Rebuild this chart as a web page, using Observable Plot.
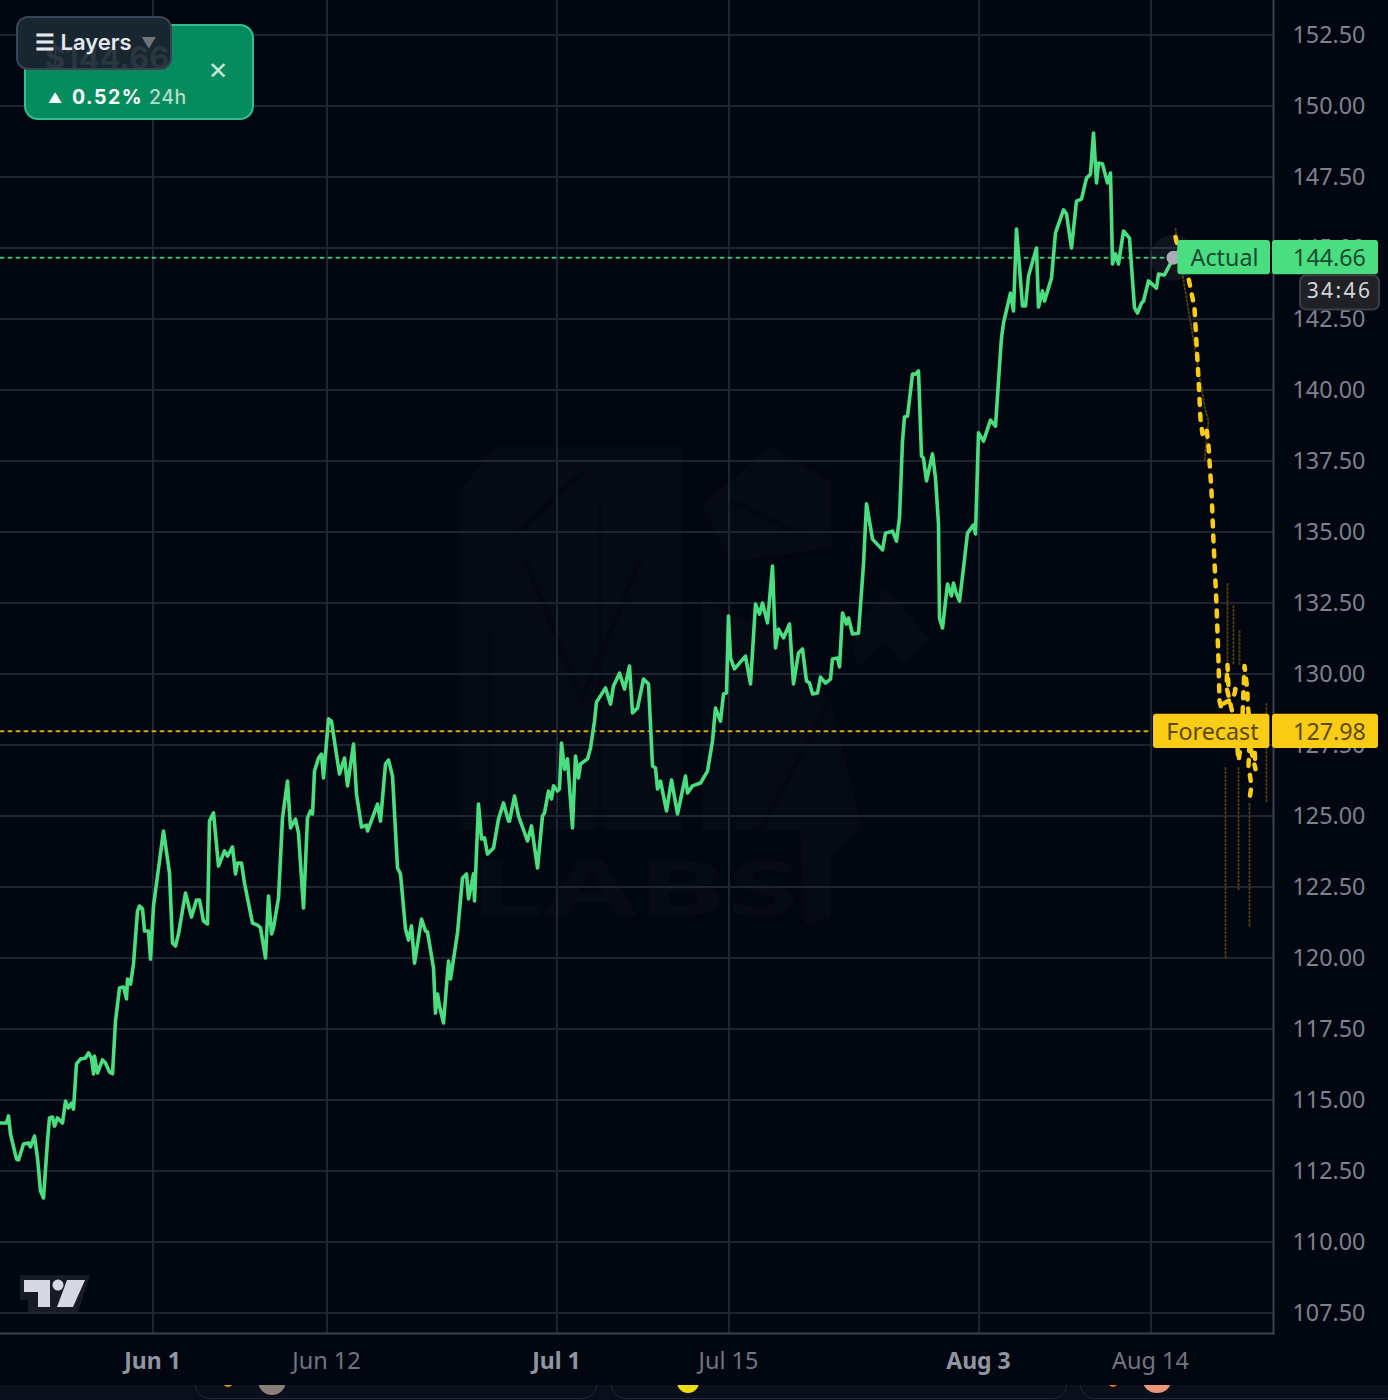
<!DOCTYPE html>
<html><head><meta charset="utf-8">
<script src="https://cdn.jsdelivr.net/npm/d3@7"></script>
<script src="https://cdn.jsdelivr.net/npm/@observablehq/plot@0.6"></script>
<style>
html,body{margin:0;padding:0;background:#020611;}
#stage{position:relative;width:1388px;height:1400px;overflow:hidden;background:#020611;font-family:Inter,"Noto Sans",sans-serif;}
#mark{position:absolute;left:0;top:0;}
#chart{position:absolute;left:0;top:0;}
#foot{position:absolute;left:0;top:1385px;width:1388px;height:15px;background:#0a0f1b;overflow:hidden;}
#foot .c{position:absolute;top:-30px;height:44px;border:1px solid #1f2837;border-radius:14px;box-sizing:border-box;}
#foot .d{position:absolute;border-radius:50%;}
#card{position:absolute;left:24px;top:24px;width:230px;height:96px;box-sizing:border-box;background:#068b5f;border:2px solid #32bf8c;border-radius:14px;color:#fff;}
#card span{position:absolute;white-space:pre;}
#card .up{left:22px;top:65px;font-size:14px;line-height:14px;}
#card .chg{left:46px;top:59px;font-size:19.5px;line-height:24px;font-weight:700;letter-spacing:1.5px;}
#card .h{left:123px;top:59px;font-size:19.5px;line-height:24px;font-weight:500;color:#b4dccb;letter-spacing:.5px;}
#card .x{left:182px;top:30px;font-size:24px;line-height:30px;color:#c3e8da;}
#layers{position:absolute;left:16px;top:16px;width:156px;height:54px;box-sizing:border-box;background:#18262f;border:2px solid #3a4355;border-radius:12px;color:#e4e7ef;font-size:22px;font-weight:600;line-height:50px;overflow:hidden;}
#layers span{position:absolute;white-space:pre;}
#layers .ghost{left:27px;top:20px;font-size:31px;line-height:40px;font-weight:700;color:#2a3640;}
#layers .t{left:17px;top:-1px;}
#layers .v{left:123px;top:0;font-size:15px;color:#70747f;}
</style></head>
<body>
<div id="stage">
<svg id="mark" width="1388" height="1385" xmlns="http://www.w3.org/2000/svg">
  <g fill="#060a14">
    <polygon points="460,490 495,447 682,447 682,830 460,830"/>
    <polygon points="702,600 790,640 830,700 862,830 702,830"/>
    <polygon points="702,505 770,447 830,480 832,548 730,562"/>
    <polygon points="850,640 885,588 930,640 905,665 885,640 858,668"/>
    <polygon points="800,830 860,830 830,860 830,918 805,925"/>
    <text x="470" y="915" font-family="Noto Sans" font-weight="700" font-size="76" textLength="330" lengthAdjust="spacingAndGlyphs">LABS</text>
  </g>
  <g fill="none" stroke="#03070f" stroke-width="5">
    <path d="M520,530 L585,470 M525,560 L582,700 L640,560 M490,630 V830 M600,500 V830 M730,600 V830 M730,500 L800,535 M760,830 L830,700"/>
  </g>
  <polygon points="20,1275 90,1275 78,1312 28,1312 28,1300 20,1300" fill="#161b26"/>
  <g fill="#d6d9e2">
    <polygon points="24,1280 50,1280 50,1307 38,1307 38,1292 24,1292"/>
    <circle cx="58" cy="1285" r="5.5"/>
    <polygon points="67,1280 85,1280 73,1307 57,1307"/>
  </g>
</svg>
<div id="chart"></div>
<div id="foot">
  <div class="c" style="left:195px;width:402px"></div>
  <div class="c" style="left:611px;width:456px"></div>
  <div class="c" style="left:1080px;width:320px"></div>
  <div class="d" style="left:223px;top:-8px;width:10px;height:10px;background:#e8950f"></div>
  <div class="d" style="left:258px;top:-18px;width:28px;height:28px;background:#8a7f78"></div>
  <div class="d" style="left:677px;top:-14px;width:22px;height:22px;background:#f0dc14"></div>
  <div class="d" style="left:1108px;top:-8px;width:10px;height:10px;background:#e8750f"></div>
  <div class="d" style="left:1143px;top:-16px;width:28px;height:24px;background:#e9967a"></div>
</div>
<div id="card">
  <span class="up">▲</span><span class="chg">0.52%</span><span class="h">24h</span><span class="x">✕</span>
</div>
<div id="layers"><span class="ghost">$144.66</span><span class="t">☰ Layers</span><span class="v">▼</span></div>
</div>
<script>
// x values are chart bars (TradingView session bars), y values are prices
const yTicks = [107.5,110,112.5,115,117.5,120,122.5,125,127.5,130,132.5,135,137.5,140,142.5,145,147.5,150,152.5];
const tickBars = [76.25,163.25,278.25,364.25,489.25,575.25];
const tickLabels = ["Jun 1","Jun 12","Jul 1","Jul 15","Aug 3","Aug 14"];
const boldBars = [76.25,278.25,489.25];
const actualPrice = 144.66, forecastPrice = 127.98;

const actualBar = [0,3,4,5,8,9,11.5,14,15,17,18.5,20,21.5,23.5,24.5,26,27,28.5,31,32.5,34,35.5,36.5,38,40,42.5,44,45.5,46.5,47,48.5,51,52.5,54.5,56,57.5,59.5,61.5,63,63.5,65,66.5,68.5,69.5,71,72,74,75,76.5,81.5,84.5,86,87.5,89,92.5,95.5,98,99.5,101.5,103.5,104.5,106.5,109,112,113.5,116,117.5,118.5,120.5,122,126,128.5,130,132.5,134,135.5,136.5,139,141,143.5,145,147.5,149,151.5,153.5,155,156,157,159,160.5,161.5,164,165.5,167.5,169.5,172,173.5,176.5,178,180.5,183,183.5,188.5,190,192.5,194,196,198.5,200,202.5,204,205.5,207,210.5,212.5,213.5,216.5,217.5,218.5,219.5,221.5,224,225,228.5,231,233,234,236.5,237,239,240.5,242,243.5,246.5,249,251.5,254,254.5,257,259,263.5,265.5,268.5,271,272,274,275.5,276.5,278.5,279.5,280.5,282,283.5,286,287.5,289,290,293.5,295,297,298,300,302.5,305,306.5,309.5,312,314.5,316,318.5,321.5,324,326,327.5,328.5,330,333,335.5,338.5,342.5,343.5,346,350,353.5,356,357.5,360,361.5,363,364,365,367,372.5,375,377.5,379.5,381,383.5,386,387.5,389,391.5,394.5,396.5,399,401,403,404.5,406,408.5,410,412.5,415,416,418.5,419.5,421,423,424,426,429,431.5,433,436,441,442.5,446,448,449.5,451,452,453.5,456,457.5,459,460.5,461.5,463,466,467.5,469,469.5,471,473.5,475.5,476.5,478,479.5,481.5,483.5,486.5,487.5,489,491.5,495,497.5,500,500.5,501.5,505,506.5,508,511,512.5,514,518,519,521,522,525.5,527.5,531.5,533,535.5,538,540.5,543,545,546.5,548,549,551,553.5,555,556,557.5,559,561.5,564.5,567,568.5,570.5,571.5,574,578,579,582,586.5];
const actualY = [114.19,114.19,114.44,113.8,112.92,112.89,113.45,113.49,113.35,113.73,112.96,111.8,111.55,113.56,114.37,114.4,114.08,114.37,114.19,114.96,114.72,114.89,114.68,116.27,116.44,116.48,116.66,116.48,115.92,116.55,115.95,116.41,116.3,115.99,115.92,117.78,118.94,118.98,118.56,119.26,119.08,119.79,121.65,121.83,121.73,120.95,120.95,119.96,121.83,124.47,122.99,120.53,120.42,120.85,122.29,121.44,122.04,122.04,121.3,121.2,124.82,125.11,123.24,123.77,123.59,123.91,122.96,123.34,123.34,122.64,121.23,121.16,121.06,120,122.18,120.85,121.06,122.11,124.93,126.23,124.58,124.89,124.4,121.76,124.93,125.18,125.07,126.58,127.04,127.18,126.34,128.42,128.34,127.39,126.48,127.04,126.06,127.53,125.77,124.61,124.68,124.47,125.42,124.82,126.83,126.97,126.41,123.17,122.96,121.02,120.63,121.13,119.82,121.37,120.95,120.92,119.65,118.06,118.73,118.31,117.71,119.89,119.26,120.88,122.82,122.96,122.08,122.96,122.01,125.42,124.19,124.23,123.66,123.87,124.89,125.46,124.82,124.82,125.7,125,124.12,124.65,123.17,125,125.11,125.88,125.6,126.06,125.88,125.95,127.57,126.65,127.01,124.58,127.11,126.34,126.83,127.01,127.39,128.34,129.01,129.23,129.51,128.94,129.58,130.03,129.47,130.28,128.63,128.8,129.82,129.65,126.76,126.69,125.95,126.23,125.18,126.27,125.07,126.41,125.81,126.06,126.16,126.58,127.64,128.8,128.34,129.3,129.33,132.04,130.56,130.18,130.63,129.65,132.46,132.11,132.5,131.8,133.8,130.92,131.58,131.27,131.76,129.65,130.74,130.88,129.75,129.68,129.3,129.33,129.89,129.68,129.82,130.53,130.56,130.25,132.15,131.76,131.97,131.41,131.44,133.87,135.99,134.75,134.37,134.96,135.03,134.68,135.49,138.2,139.05,139.08,140.56,140.56,140.67,137.68,137.6,136.8,137.75,136.9,135.28,131.97,131.62,133.17,132.75,133.2,132.82,132.57,133.73,134.96,135.25,134.93,138.49,138.2,138.94,138.73,141.37,141.83,142.36,143.41,142.78,145.67,142.96,142.96,144.01,145,142.92,143.49,143.13,143.94,145.53,146.34,146.2,145,146.65,146.72,147.46,147.6,149.05,147.29,147.99,147.96,147.29,147.64,144.44,144.79,144.44,145.6,145.35,142.89,142.71,143.06,143.13,143.84,143.59,144.08,144.05,144.66];

const forecastBar = [587.5,590,594,597,599,600,601,603,604,605.5,606.5,608,609,609.5,610.5,611,616.5,617.5,614,613.5,613,616,618,619,620.5,622,623.5,623.5,624.5,627,627.5,624.5,624,625.5,624.5];
const forecastY = [145.39,144.61,143.94,142.89,140.39,138.98,138.45,138.66,138.03,136.44,134.68,132.46,130.46,129.05,128.77,128.94,129.15,129.47,129.54,130.32,129.54,128.63,127.82,126.94,127.64,130.28,129.4,128.98,128.34,127.46,126.65,127.57,126.76,126.06,125.6];

const bandId = [0,0,0,0,0,0,1,1,2,2,3,3,4,4,5,5,6,6,7,7];
const bandBar = [587.5,589,593,602,604,602,613.5,613.5,616.5,616.5,619.5,619.5,612.5,612.5,619,619,624.5,624.5,633,633];
const bandY = [145.67,144.89,143.24,139.44,138.91,137.5,133.17,130.21,132.39,130.35,131.51,130.35,126.69,120,126.69,122.36,125.42,121.06,128.94,125.53];

const pts = (xs, ys, zs) => xs.map((x, i) => ({x, y: ys[i], z: zs ? zs[i] : 0}));
const font = '"Noto Sans", sans-serif';
const tagH = 0.6;

const chart = Plot.plot({
  width: 1388, height: 1385,
  marginTop: 0, marginLeft: 0, marginRight: 115, marginBottom: 52,
  style: {background: "transparent", fontFamily: font},
  x: {domain: [0, 694], range: [0, 1388]},
  y: {domain: [107.5, 152.5], range: [1312.5, 34.5]},
  marks: [
    Plot.gridX(tickBars, {stroke: "#1d2432", strokeOpacity: 1, strokeWidth: 2}),
    Plot.gridY(yTicks, {stroke: "#1d2432", strokeOpacity: 1, strokeWidth: 2}),
    Plot.frame({anchor: "right", stroke: "#39424f", strokeWidth: 2}),
    Plot.frame({anchor: "bottom", stroke: "#39424f", strokeWidth: 2}),
    Plot.axisY(yTicks, {anchor: "right", tickSize: 0, tickPadding: 19, dy: 0.7, label: null, tickFormat: d => d.toFixed(2), fontSize: 23.3, fill: "#7c828f", fontFamily: font}),
    Plot.axisX(tickBars.filter(b => !boldBars.includes(b)), {anchor: "bottom", tickSize: 0, tickPadding: 19, dx: -0.5, label: null, tickFormat: d => tickLabels[tickBars.indexOf(d)], fontSize: 23.5, fill: "#6f7582", fontFamily: font}),
    Plot.axisX(boldBars, {anchor: "bottom", tickSize: 0, tickPadding: 19, dx: -0.5, label: null, tickFormat: d => tickLabels[tickBars.indexOf(d)], fontSize: 23, fontWeight: 700, fill: "#8f95a1", fontFamily: font}),

    Plot.line(pts([0, 576], [forecastPrice, forecastPrice]), {x: "x", y: "y", stroke: "#d9a90f", strokeWidth: 2, strokeDasharray: "3 5"}),
    Plot.line(pts([0, 586.5], [actualPrice, actualPrice]), {x: "x", y: "y", stroke: "#3fbf72", strokeWidth: 2, strokeDasharray: "3 5"}),

    Plot.line(pts(bandBar, bandY, bandId), {x: "x", y: "y", z: "z", stroke: "#4a3e0c", strokeWidth: 2, strokeDasharray: "1.5 2.5"}),
    Plot.line(pts(forecastBar, forecastY), {x: "x", y: "y", stroke: "#facc15", strokeWidth: 4.5, strokeDasharray: "6 9"}),
    Plot.line(pts(actualBar, actualY), {x: "x", y: "y", stroke: "#4ade80", strokeWidth: 3.6, strokeLinejoin: "round"}),

    Plot.dot([{x: 586.5, y: actualPrice}], {x: "x", y: "y", r: 23, fill: "#ffffff", fillOpacity: 0.06}),
    Plot.dot([{x: 586.5, y: actualPrice}], {x: "x", y: "y", r: 7, fill: "#a9adba"}),

    Plot.rect([{a: 588.7, b: 635}, {a: 636, b: 689}], {x1: "a", x2: "b", y1: () => actualPrice - tagH, y2: () => actualPrice + tagH, fill: "#4ade80", rx: 3}),
    Plot.rect([{a: 576.5, b: 634.7}, {a: 636, b: 689}], {x1: "a", x2: "b", y1: () => forecastPrice - tagH, y2: () => forecastPrice + tagH, fill: "#facc15", rx: 3}),
    Plot.text([{x: 612, y: actualPrice, t: "Actual"}, {x: 664.5, y: actualPrice, t: actualPrice.toFixed(2)}], {x: "x", y: "y", text: "t", fontSize: 23.3, dy: 0.7, fill: "#1a4a33", fontFamily: font}),
    Plot.text([{x: 606, y: forecastPrice, t: "Forecast"}, {x: 664.5, y: forecastPrice, t: forecastPrice.toFixed(2)}], {x: "x", y: "y", text: "t", fontSize: 23.3, dy: 0.7, fill: "#5c4a0c", fontFamily: font}),

    Plot.rect([{a: 650, b: 689.5}], {x1: "a", x2: "b", y1: () => 142.82, y2: () => 144.02, fill: "#1f2126", stroke: "#3b3e45", strokeWidth: 2, rx: 6}),
    Plot.text([{x: 669.5, y: 143.46, t: "34:46"}], {x: "x", y: "y", text: "t", fontSize: 21, fill: "#d4d6da", fontFamily: font})
  ]
});
chart.style.display = "block";
chart.querySelectorAll("text").forEach(t => { if (t.textContent === "34:46") t.style.letterSpacing = "2.4px"; });
document.getElementById("chart").appendChild(chart);
</script>
</body></html>
